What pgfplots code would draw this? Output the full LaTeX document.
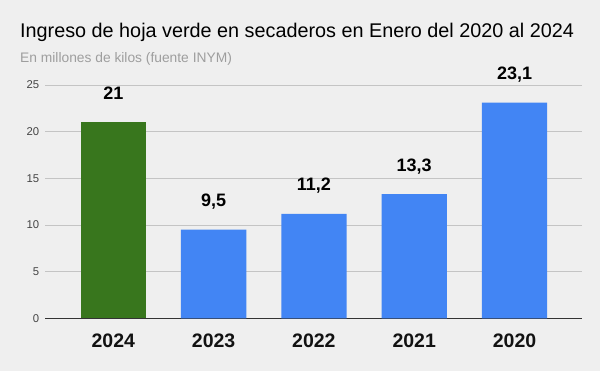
\documentclass[border=0pt]{standalone}
\usepackage{fontspec}
\setmainfont{Liberation Sans}
\usepackage{pgfplots}
\pgfplotsset{compat=1.18}
\definecolor{bg}{HTML}{EFEFEF}
\definecolor{gridc}{HTML}{C4C4C4}
\definecolor{barblue}{HTML}{4285F4}
\definecolor{bargreen}{HTML}{38761D}
\definecolor{subc}{HTML}{9E9E9E}
\definecolor{tickc}{HTML}{444444}
\begin{document}
\begin{tikzpicture}[x=1bp,y=1bp]
\path[use as bounding box, fill=bg] (0,0) rectangle (600,371);
\node[anchor=base west, inner sep=0pt, text=black] at (20,333.7) {\fontsize{19.8bp}{22bp}\selectfont Ingreso de hoja verde en secaderos en Enero del 2020 al 2024};
\node[anchor=base west, inner sep=0pt, text=subc] at (20,308.3) {\fontsize{13.8bp}{15bp}\selectfont En millones de kilos (fuente INYM)};
\begin{axis}[
  at={(45bp,52.7bp)}, anchor=south west,
  width=537bp, height=233.3bp, scale only axis,
  xmin=-0.681, xmax=4.673, ymin=0, ymax=25,
  ybar, bar width=0.651, bar shift=0pt,
  xtick={0,1,2,3,4},
  xticklabels={2024,2023,2022,2021,2020},
  ytick={0,5,10,15,20,25},
  major tick length=0pt,
  ymajorgrids, grid style={gridc, line width=0.8bp},
  axis x line*=bottom, axis y line*=left,
  x axis line style={-, draw=black!80, line width=1bp},
  y axis line style={draw=none},
  /pgf/number format/assume math mode=true,
  /pgf/number format/use comma,
  xticklabel style={anchor=base, yshift=-29bp, font=\fontsize{19.5bp}{22bp}\selectfont\bfseries, text=black!93},
  yticklabel style={font=\fontsize{11.3bp}{13bp}\selectfont, text=tickc, anchor=east, inner sep=0pt, xshift=-5.7bp},
  nodes near coords,
  nodes near coords style={anchor=base, yshift=23bp, inner sep=0pt, font=\fontsize{18bp}{20bp}\selectfont\bfseries, text=black},
]
\addplot[fill=bargreen, draw=none] coordinates {(0,21)};
\addplot[fill=barblue, draw=none] coordinates {(1,9.5) (2,11.2) (3,13.3) (4,23.1)};
\end{axis}
\end{tikzpicture}
\end{document}
